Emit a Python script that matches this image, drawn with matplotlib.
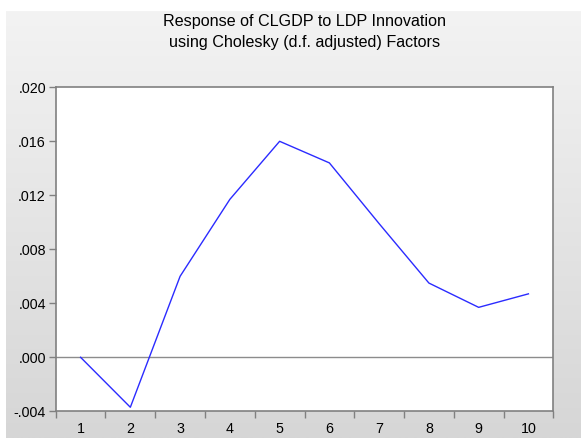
import matplotlib
matplotlib.use("Agg")
import matplotlib.pyplot as plt
import numpy as np
from matplotlib.ticker import FuncFormatter

plt.rcParams['font.family'] = ['Liberation Sans', 'DejaVu Sans']

# impulse response values, periods 1..10
periods = [1, 2, 3, 4, 5, 6, 7, 8, 9, 10]
response = [0.0, -0.0037, 0.0060, 0.0117, 0.0160, 0.0144, 0.0099, 0.0055, 0.0037, 0.0047]
y_ticks = [-0.004, 0.000, 0.004, 0.008, 0.012, 0.016, 0.020]

W, H = 581, 438
fig = plt.figure(figsize=(W / 100, H / 100), dpi=100)
fig.patch.set_facecolor('white')

# grey gradient panel behind everything
bg = fig.add_axes([6 / W, 0, 1 - 6 / W, (H - 11) / H])
grad = np.linspace(0, 1, 256).reshape(-1, 1)
bg.imshow(grad, aspect='auto', cmap=matplotlib.colors.LinearSegmentedColormap.from_list(
    'g', ['#f3f3f3', '#d6d6d6']), extent=[0, 1, 0, 1], origin='upper')
bg.axis('off')

left, right, top, bottom = 55.7, 553.3, 87.3, 411.3
ax = fig.add_axes([left / W, 1 - bottom / H, (right - left) / W, (bottom - top) / H])
ax.set_facecolor('white')

ax.plot(periods, response, color='#2b2bff', linewidth=1.0)
ax.axhline(0, color='#8c8c8c', linewidth=1.0, zorder=1)

ax.set_xlim(0.5, 10.5)
ax.set_ylim(-0.004, 0.020)

ax.set_xticks(np.arange(0.5, 11, 1))
ax.set_xticklabels([])
ax.set_xticks(periods, minor=True)
ax.set_xticklabels([str(p) for p in periods], minor=True)
ax.tick_params(axis='x', which='minor', length=0, pad=8, labelsize=10.3)
ax.tick_params(axis='x', which='major', direction='out', length=5, color='#808080', width=1)

ax.set_yticks(y_ticks)
ax.yaxis.set_major_formatter(FuncFormatter(lambda v, p: ('-' if v < -1e-9 else '') + ('%.3f' % abs(v))[1:]))
ax.tick_params(axis='y', direction='out', length=5, color='#808080', width=1, labelsize=10.3, pad=2)

for s in ['left', 'bottom', 'right', 'top']:
    ax.spines[s].set_color('#808080')
    ax.spines[s].set_linewidth(1.2)

fig.text((left + right) / 2 / W, 1 - 32 / H,
         'Response of CLGDP to LDP Innovation\nusing Cholesky (d.f. adjusted) Factors',
         ha='center', va='center', fontsize=11.6, linespacing=1.55)

fig.savefig('out.png', dpi=100)
